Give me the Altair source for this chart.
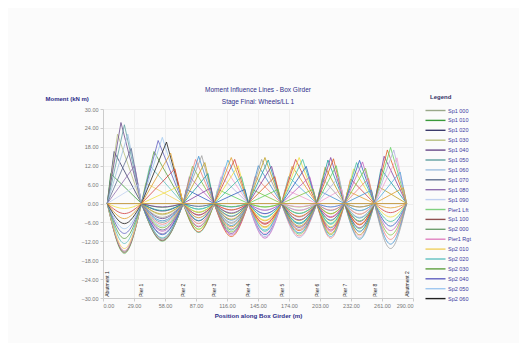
import altair as alt
import pandas as pd

# ---------------- data (read / estimated from the picture) ----------------
supports = [4, 36, 75, 104, 136, 167, 200, 226, 254, 284]
support_labels = ["Abutment 1", "Pier 1", "Pier 2", "Pier 3", "Pier 4",
                  "Pier 5", "Pier 6", "Pier 7", "Pier 8", "Abutment 2"]
fracs = [0.1, 0.2, 0.3, 0.4, 0.5, 0.6, 0.7, 0.8, 0.9]
frac_codes = ["010", "020", "030", "040", "050", "060", "070", "080", "090"]
x_ticks = [0, 29, 58, 87, 116, 145, 174, 203, 232, 261, 290]
y_ticks = [-30, -24, -18, -12, -6, 0, 6, 12, 18, 24, 30]

# positive peak of each section's influence line, per span
peaks = [
    [9.5, 16.5, 22.0, 25.7, 25.0, 22.0, 17.5, 12.0, 6.0],
    [6.5, 12.0, 16.5, 20.0, 21.0, 19.5, 16.0, 11.0, 5.5],
    [4.5, 8.5, 11.8, 14.0, 15.0, 15.2, 13.0, 9.5, 5.0],
    [4.5, 8.5, 11.5, 13.8, 14.6, 14.0, 12.0, 8.5, 4.5],
    [4.5, 8.5, 12.0, 14.0, 14.6, 13.8, 11.8, 8.5, 4.5],
    [4.5, 8.5, 11.8, 14.0, 14.6, 14.0, 11.8, 8.5, 4.5],
    [4.0, 8.0, 11.5, 13.8, 14.6, 14.2, 12.0, 8.5, 4.5],
    [4.0, 7.8, 11.0, 13.0, 13.7, 13.2, 11.2, 8.0, 4.2],
    [5.5, 11.0, 15.0, 17.0, 17.8, 17.0, 14.5, 10.0, 5.0],
]
# negative sag in the span to the left
sag_left = [
    None,
    [-14.3, -12.7, -11.1, -9.5, -8.0, -6.4, -4.8, -3.2, -1.6],
    [-9.9, -8.8, -7.7, -6.6, -5.5, -4.4, -3.3, -2.2, -1.1],
    [-8.1, -7.2, -6.3, -5.4, -4.5, -3.6, -2.7, -1.8, -0.9],
    [-9.0, -8.0, -7.0, -6.0, -5.0, -4.0, -3.0, -2.0, -1.0],
    [-9.5, -8.4, -7.4, -6.3, -5.3, -4.2, -3.2, -2.1, -1.1],
    [-9.3, -8.2, -7.2, -6.2, -5.2, -4.1, -3.1, -2.1, -1.0],
    [-9.5, -8.4, -7.4, -6.3, -5.3, -4.2, -3.2, -2.1, -1.1],
    [-9.9, -8.8, -7.7, -6.6, -5.5, -4.4, -3.3, -2.2, -1.1],
]
# negative sag in the span to the right
sag_right = [
    [-1.2, -2.4, -3.6, -4.8, -6.0, -7.2, -8.4, -9.6, -10.8],
    [-0.9, -1.8, -2.8, -3.7, -4.6, -5.5, -6.4, -7.4, -8.3],
    [-1.1, -2.1, -3.2, -4.2, -5.3, -6.3, -7.4, -8.4, -9.5],
    [-1.1, -2.2, -3.3, -4.4, -5.5, -6.6, -7.7, -8.8, -9.9],
    [-1.1, -2.2, -3.2, -4.3, -5.4, -6.5, -7.6, -8.6, -9.7],
    [-1.1, -2.2, -3.3, -4.4, -5.5, -6.6, -7.7, -8.8, -9.9],
    [-1.1, -2.3, -3.4, -4.6, -5.7, -6.8, -8.0, -9.1, -10.3],
    [-1.4, -2.9, -4.3, -5.7, -7.2, -8.6, -10.0, -11.4, -12.9],
    None,
]
# support sections: sag into left span / right span
pier_sag_left = [-15.9, -11.0, -9.0, -10.0, -10.5, -10.3, -10.5, -11.0]
pier_sag_right = [-12.0, -9.2, -10.5, -11.0, -10.8, -11.0, -11.4, -14.3]
pier1_variants = ["Pier1 Lft", "Sp1 100", "Sp2 000", "Pier1 Rgt"]
pier1_var_left = [-15.9, -15.6, -15.3, -15.0]
pier1_var_right = [-12.0, -11.8, -11.6, -11.3]

legend_names = ["Sp1 000", "Sp1 010", "Sp1 020", "Sp1 030", "Sp1 040", "Sp1 050",
                "Sp1 060", "Sp1 070", "Sp1 080", "Sp1 090", "Pier1 Lft", "Sp1 100",
                "Sp2 000", "Pier1 Rgt", "Sp2 010", "Sp2 020", "Sp2 030", "Sp2 040",
                "Sp2 050", "Sp2 060"]
legend_colors = ["#9aa88a", "#3a9a3a", "#3b3b6b", "#b8c080", "#6a4a8a", "#60a0a0",
                 "#a0c0e0", "#607090", "#9070b0", "#c0d0f0", "#80d080", "#905050",
                 "#70a070", "#e080c0", "#f0d060", "#60c0c0", "#60a040", "#6060c0",
                 "#a0c8f0", "#202020"]
extra_colors = ["#e0a030", "#d04040", "#f0e040", "#40c0a0", "#3060c0", "#c060c0",
                "#80c040", "#f08080", "#4090d0", "#a0a0a0", "#c0a020", "#20a0a0",
                "#8040a0", "#e06020", "#60d060", "#b0b0e0", "#f0a0d0", "#50b0e0"]

# ---------------- build table ----------------
rows = []
order = []
x0, x9 = supports[0], supports[-1]


def add_base(name):
    rows.append(dict(series=name, seg="base", kind="lin", x=x0, y=0.0))
    rows.append(dict(series=name, seg="base", kind="lin", x=x9, y=0.0))


def add_sag(name, span, val, tag):
    s, e = supports[span], supports[span + 1]
    rows.append(dict(series=name, seg=tag, kind="crv", x=s, y=0.0))
    rows.append(dict(series=name, seg=tag, kind="crv", x=(s + e) / 2, y=val))
    rows.append(dict(series=name, seg=tag, kind="crv", x=e, y=0.0))


def add_pier(name, p, left, right):
    order.append(name)
    add_base(name)
    add_sag(name, p, left, "L")
    add_sag(name, p + 1, right, "R")


order.append("Sp1 000")
add_base("Sp1 000")
for i in range(9):
    s, e = supports[i], supports[i + 1]
    for k, f in enumerate(fracs):
        name = f"Sp{i + 1} {frac_codes[k]}"
        order.append(name)
        add_base(name)
        rows.append(dict(series=name, seg="P", kind="lin", x=s, y=0.0))
        rows.append(dict(series=name, seg="P", kind="lin", x=s + f * (e - s), y=peaks[i][k]))
        rows.append(dict(series=name, seg="P", kind="lin", x=e, y=0.0))
        if sag_left[i] is not None:
            add_sag(name, i - 1, sag_left[i][k], "L")
        if sag_right[i] is not None:
            add_sag(name, i + 1, sag_right[i][k], "R")
    if i == 0:
        for v, name in enumerate(pier1_variants):
            add_pier(name, 0, pier1_var_left[v], pier1_var_right[v])
    elif i < 8:
        add_pier(f"Pier{i + 1}", i, pier_sag_left[i], pier_sag_right[i])

df = pd.DataFrame(rows)

# colour range in series order: legend entries get their legend colours
color_range = []
ex = 0
for name in order:
    if name in legend_names:
        color_range.append(legend_colors[legend_names.index(name)])
    else:
        color_range.append(extra_colors[ex % len(extra_colors)])
        ex += 1

sup_df = pd.DataFrame(dict(x=supports, label=support_labels, y=[-29.6] * len(supports)))

NAVY = "#2e2e8a"
FONT = "Liberation Sans"

color = alt.Color(
    "series:N",
    scale=alt.Scale(domain=order, range=color_range),
    legend=alt.Legend(
        title="Legend", values=legend_names, orient="none",
        legendX=327, legendY=-15,
        symbolType="M-2.2,0L2.2,0", symbolSize=83, symbolStrokeWidth=1.4,
        labelOffset=7, rowPadding=0.9, labelFontSize=5.5, labelColor="#3a3aa0",
        titleFontSize=6, titleColor="#333366", titlePadding=5, labelFont=FONT,
        titleFont=FONT,
    ),
)

xscale = alt.Scale(domain=[0, 290], nice=False, zero=False)
yscale = alt.Scale(domain=[-30, 30], nice=False)

xaxis = alt.Axis(values=x_ticks, tickCount=len(x_ticks), format=".2f",
                 title="Position along Box Girder (m)", labelFontSize=5.5, labelColor="#777777",
                 titleFontSize=6.2, titleColor=NAVY, titleFontWeight="bold", titlePadding=4,
                 gridColor="#eeeeee", domainColor="#cccccc", tickColor="#cccccc", tickSize=3,
                 labelOverlap=False, labelFont=FONT, titleFont=FONT)
yaxis = alt.Axis(values=y_ticks, tickCount=len(y_ticks), format=".2f",
                 title="Moment (kN m)", titleAngle=0, titleAlign="left", titleX=-58, titleY=-11,
                 titleBaseline="middle", labelFontSize=5.5, labelColor="#777777",
                 titleFontSize=6, titleColor=NAVY, titleFontWeight="bold",
                 gridColor="#eeeeee", domainColor="#cccccc", tickColor="#cccccc", tickSize=3,
                 labelOverlap=False, labelFont=FONT, titleFont=FONT)

base = alt.Chart(df)
curves = base.transform_filter(alt.datum.kind == "crv").mark_line(
    interpolate="monotone", strokeWidth=0.8, clip=True
).encode(
    x=alt.X("x:Q", scale=xscale, axis=xaxis),
    y=alt.Y("y:Q", scale=yscale, axis=yaxis),
    color=color,
    detail=["series:N", "seg:N"],
)
lines = base.transform_filter(alt.datum.kind == "lin").mark_line(
    strokeWidth=0.8, clip=True
).encode(
    x=alt.X("x:Q", scale=xscale, axis=xaxis),
    y=alt.Y("y:Q", scale=yscale, axis=yaxis),
    color=color,
    detail=["series:N", "seg:N"],
)
markers = alt.Chart(sup_df).mark_text(
    angle=270, align="left", baseline="middle", fontSize=5, color="#222222", font=FONT
).encode(
    x=alt.X("x:Q", scale=xscale, axis=xaxis),
    y=alt.Y("y:Q", scale=yscale, axis=yaxis),
    text="label:N",
)

chart = alt.layer(curves, lines, markers).properties(
    width=310, height=189,
    autosize="none",
    padding={"left": 95, "top": 101, "right": 106, "bottom": 45},
    background="#fbfbfb",
    title=alt.TitleParams(
        text="Moment Influence Lines - Box Girder",
        subtitle="Stage Final: Wheels/LL 1",
        fontSize=6.5, subtitleFontSize=6.5, color=NAVY, subtitleColor=NAVY,
        fontWeight="normal", font=FONT, subtitleFont=FONT, anchor="middle",
        offset=-11, subtitlePadding=5,
    ),
).configure_view(stroke=None)

chart.save("out.html", embed_options={"renderer": "svg", "actions": False})
